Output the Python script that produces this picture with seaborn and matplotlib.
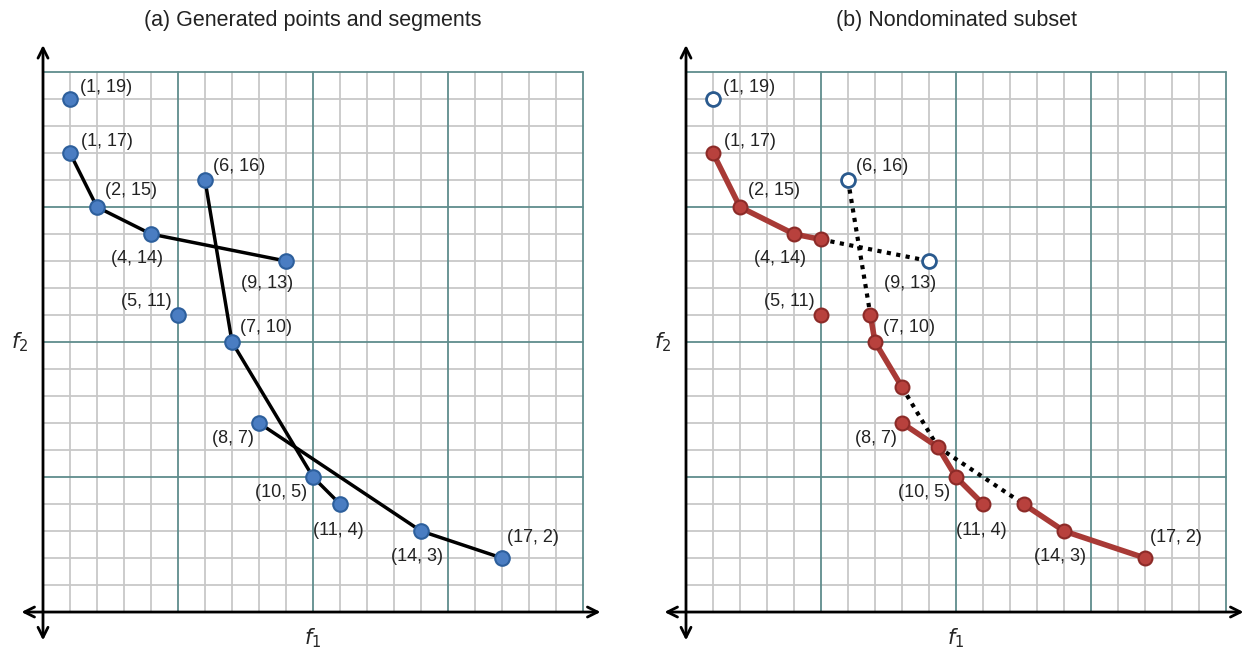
import matplotlib
matplotlib.use("Agg")
import matplotlib.pyplot as plt
import seaborn as sns
import pandas as pd

sns.set_style("white")
plt.rcParams['font.family'] = ['Liberation Sans', 'DejaVu Sans']

# datos de los puntos generados
f1 = [1, 1, 2, 4, 5, 6, 7, 8, 9, 10, 11, 14, 17]
f2 = [19, 17, 15, 14, 11, 16, 10, 7, 13, 5, 4, 3, 2]

# segmentos del panel (a): listas de vertices
seg_a = [
    [(1, 17), (2, 15), (4, 14), (9, 13)],
    [(6, 16), (7, 10), (10, 5), (11, 4)],
    [(8, 7), (14, 3), (17, 2)],
]

# panel (b): partes no dominadas (rojo), partes dominadas (punteado)
seg_rojo = [
    [(1, 17), (2, 15), (4, 14), (5, 13.8)],
    [(6.83, 11), (7, 10), (8, 8.33)],
    [(8, 7), (9.33, 6.11), (10, 5), (11, 4)],
    [(12.5, 4), (14, 3), (17, 2)],
]
seg_punteado = [
    [(5, 13.8), (9, 13)],
    [(6, 16), (6.83, 11)],
    [(8, 8.33), (9.33, 6.11)],
    [(9.33, 6.11), (12.5, 4)],
]
aislados_rojo = [(5, 11)]
huecos = [(1, 19), (6, 16), (9, 13)]

# posicion de cada etiqueta relativa al punto (pixeles) y alineacion
etiquetas = {
    (1, 19): (10, 12, 'left'),
    (1, 17): (11, 12, 'left'),
    (2, 15): (8, 17, 'left'),
    (6, 16): (8, 14, 'left'),
    (4, 14): (-14, -24, 'center'),
    (9, 13): (-19, -22, 'center'),
    (5, 11): (-6, 14, 'right'),
    (7, 10): (8, 15, 'left'),
    (8, 7): (-5, -15, 'right'),
    (10, 5): (-6, -15, 'right'),
    (11, 4): (-2, -26, 'center'),
    (14, 3): (-4, -25, 'center'),
    (17, 2): (5, 21, 'left'),
}


def a_tabla(segmentos):
    filas = []
    for i, seg in enumerate(segmentos):
        for x, y in seg:
            filas.append({'f1': x, 'f2': y, 'seg': i})
    return pd.DataFrame(filas)


def preparar(ax, titulo):
    ax.set_xlim(-1, 21)
    ax.set_ylim(-1.4, 21.4)
    for v in range(0, 21):
        mayor = v % 5 == 0
        c = '#5f8c8c' if mayor else '#c8c8c8'
        z = 1 if mayor else 0.5
        ax.plot([v, v], [0, 20], color=c, lw=1.3, zorder=z)
        ax.plot([0, 20], [v, v], color=c, lw=1.3, zorder=z)
    ax.annotate('', xy=(20.65, 0), xytext=(-0.8, 0),
                arrowprops=dict(arrowstyle='<->', color='black', lw=2,
                                mutation_scale=18, shrinkA=0, shrinkB=0), zorder=3)
    ax.annotate('', xy=(0, 21.0), xytext=(0, -1.05),
                arrowprops=dict(arrowstyle='<->', color='black', lw=2,
                                mutation_scale=18, shrinkA=0, shrinkB=0), zorder=3)
    ax.text(10, -0.98, r'$f_1$', ha='center', va='center', fontsize=15)
    ax.text(-0.85, 10, r'$f_2$', ha='center', va='center', fontsize=15)
    ax.text(10, 21.9, titulo, ha='center', va='center', fontsize=15.5, color='#222222')
    ax.set_axis_off()


def poner_etiquetas(ax):
    for (x, y), (dx, dy, ha) in etiquetas.items():
        ax.annotate(f'({x}, {y})', (x, y), xytext=(dx, dy), textcoords='offset pixels',
                    ha=ha, va='center', fontsize=13, color='#222222', zorder=6)


fig = plt.figure(figsize=(12.43, 6.51), dpi=100)
ax1 = fig.add_axes([16 / 1243, 0.0018, 594 / 1243, 0.9456])
ax2 = fig.add_axes([659 / 1243, 0.0018, 594 / 1243, 0.9456])

# (a)
preparar(ax1, '(a) Generated points and segments')
sns.lineplot(data=a_tabla(seg_a), x='f1', y='f2', units='seg', estimator=None, sort=False,
             color='black', lw=2.5, ax=ax1, zorder=4, legend=False)
sns.scatterplot(x=f1, y=f2, s=110, color='#4a7dc2', edgecolor='#2d5f9c', linewidth=1.5,
                ax=ax1, zorder=5, legend=False)
poner_etiquetas(ax1)

# (b)
preparar(ax2, '(b) Nondominated subset')
sns.lineplot(data=a_tabla(seg_punteado), x='f1', y='f2', units='seg', estimator=None,
             sort=False, color='black', lw=3, linestyle=(0, (1, 1.3)), ax=ax2, zorder=4,
             legend=False)
tabla_roja = a_tabla(seg_rojo)
sns.lineplot(data=tabla_roja, x='f1', y='f2', units='seg', estimator=None, sort=False,
             color='#a83a36', lw=4, ax=ax2, zorder=4, legend=False)
rojos = pd.concat([tabla_roja, pd.DataFrame(aislados_rojo, columns=['f1', 'f2'])])
sns.scatterplot(data=rojos, x='f1', y='f2', s=100, color='#b8413d', edgecolor='#8c2b28',
                linewidth=1.5, ax=ax2, zorder=5, legend=False)
sns.scatterplot(x=[p[0] for p in huecos], y=[p[1] for p in huecos], s=100, color='white',
                edgecolor='#2a5a8e', linewidth=2, ax=ax2, zorder=5, legend=False)
poner_etiquetas(ax2)

fig.savefig('out.png', dpi=100)
